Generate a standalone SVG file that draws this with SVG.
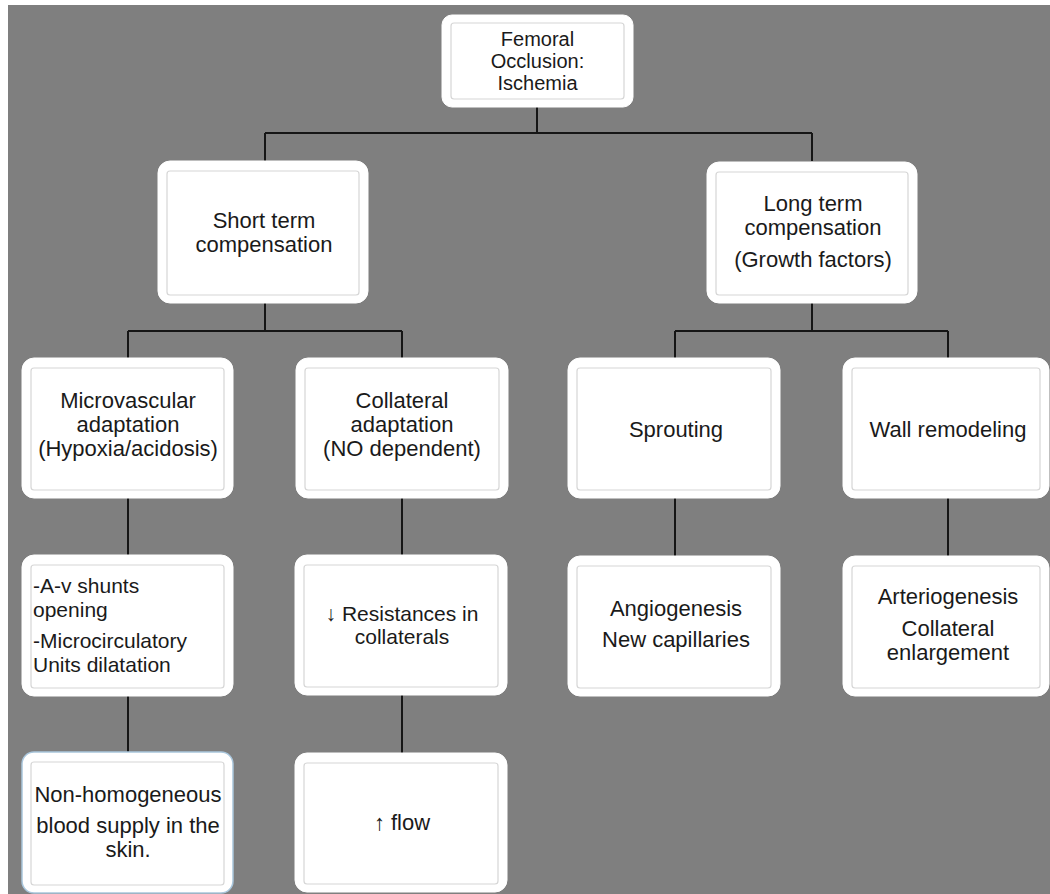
<svg xmlns="http://www.w3.org/2000/svg" width="1050" height="894" viewBox="0 0 1050 894">
<style>
.bg{fill:#7f7f7f}
.box{fill:#ffffff;stroke:#ffffff;stroke-width:1}
.inner{fill:none;stroke:#d6d6d6;stroke-width:1.2}
.t{font-family:"Liberation Sans",Arial,sans-serif;font-size:22px;fill:#1a1a1a;text-anchor:middle}
.s20{font-size:20px}
.s21{font-size:21px}
.l{text-anchor:start}
.c{fill:none;stroke:#151515;stroke-width:2}
</style>
<rect x="0" y="0" width="1050" height="894" fill="#ffffff"/>
<rect class="bg" x="8" y="5" width="1042" height="889"/>
<g id="connectors">
<path class="c" d="M537 107V133M265 133H812M265 133V161M812 133V161"/>
<path class="c" d="M265 303V331M128 331H402M128 331V358M402 331V358"/>
<path class="c" d="M812 303V331M675 331H948M675 331V358M948 331V358"/>
<path class="c" d="M128 498V555M402 498V555M675 498V556M948 498V556"/>
<path class="c" d="M128 696V752M402 695V753"/>
</g>
<g id="n-femoral">
<rect class="box" x="442" y="15" width="191" height="92" rx="10"/>
<rect class="inner" x="451" y="23" width="173" height="76" rx="3"/>
<text class="t s20" x="537.5" y="46">Femoral</text>
<text class="t s20" x="537.5" y="68">Occlusion:</text>
<text class="t s20" x="537.5" y="90">Ischemia</text>
</g>
<g id="n-short">
<rect class="box" x="158" y="161" width="210" height="142" rx="12"/>
<rect class="inner" x="167" y="171" width="192" height="124" rx="3"/>
<text class="t" x="264" y="228">Short term</text>
<text class="t" x="264" y="252">compensation</text>
</g>
<g id="n-long">
<rect class="box" x="707" y="162" width="210" height="141" rx="12"/>
<rect class="inner" x="716" y="172" width="192" height="123" rx="3"/>
<text class="t" x="813" y="211">Long term</text>
<text class="t" x="813" y="235">compensation</text>
<text class="t" x="813" y="267">(Growth factors)</text>
</g>
<g id="n-micro">
<rect class="box" x="22" y="358" width="211" height="140" rx="12"/>
<rect class="inner" x="31" y="368" width="193" height="122" rx="3"/>
<text class="t" x="128" y="408">Microvascular</text>
<text class="t" x="128" y="432">adaptation</text>
<text class="t" x="128" y="456">(Hypoxia/acidosis)</text>
</g>
<g id="n-collat">
<rect class="box" x="296" y="358" width="212" height="140" rx="12"/>
<rect class="inner" x="305" y="368" width="194" height="122" rx="3"/>
<text class="t" x="402" y="408">Collateral</text>
<text class="t" x="402" y="432">adaptation</text>
<text class="t" x="402" y="456">(NO dependent)</text>
</g>
<g id="n-sprout">
<rect class="box" x="568" y="358" width="212" height="140" rx="12"/>
<rect class="inner" x="577" y="368" width="194" height="122" rx="3"/>
<text class="t" x="676" y="437">Sprouting</text>
</g>
<g id="n-wall">
<rect class="box" x="843" y="358" width="206" height="140" rx="12"/>
<rect class="inner" x="852" y="368" width="188" height="122" rx="3"/>
<text class="t" x="948" y="437">Wall remodeling</text>
</g>
<g id="n-av">
<rect class="box" x="22" y="555" width="211" height="141" rx="12"/>
<rect class="inner" x="31" y="565" width="193" height="123" rx="3"/>
<text class="t s21 l" x="33" y="593">-A-v shunts</text>
<text class="t s21 l" x="33" y="617">opening</text>
<text class="t s21 l" x="33" y="648">-Microcirculatory</text>
<text class="t s21 l" x="33" y="672">Units dilatation</text>
</g>
<g id="n-resist">
<rect class="box" x="295" y="555" width="212" height="140" rx="12"/>
<rect class="inner" x="304" y="565" width="194" height="122" rx="3"/>
<text class="t s21" x="402" y="621">↓ Resistances in</text>
<text class="t s21" x="402" y="644">collaterals</text>
</g>
<g id="n-angio">
<rect class="box" x="568" y="556" width="212" height="140" rx="12"/>
<rect class="inner" x="577" y="566" width="194" height="122" rx="3"/>
<text class="t" x="676" y="616">Angiogenesis</text>
<text class="t" x="676" y="647">New capillaries</text>
</g>
<g id="n-arterio">
<rect class="box" x="843" y="556" width="206" height="140" rx="12"/>
<rect class="inner" x="852" y="566" width="188" height="122" rx="3"/>
<text class="t" x="948" y="604">Arteriogenesis</text>
<text class="t" x="948" y="636">Collateral</text>
<text class="t" x="948" y="660">enlargement</text>
</g>
<g id="n-nonhomog">
<rect x="22" y="752" width="211" height="141" rx="12" fill="#ffffff" stroke="#a9c6dc" stroke-width="1.5"/>
<rect class="inner" x="31" y="762" width="193" height="123" rx="3"/>
<text class="t" x="128" y="802">Non-homogeneous</text>
<text class="t" x="128" y="833">blood supply in the</text>
<text class="t" x="128" y="857">skin.</text>
</g>
<g id="n-flow">
<rect class="box" x="295" y="753" width="212" height="139" rx="12"/>
<rect class="inner" x="304" y="763" width="194" height="121" rx="3"/>
<text class="t" x="402" y="830">↑ flow</text>
</g>
</svg>
